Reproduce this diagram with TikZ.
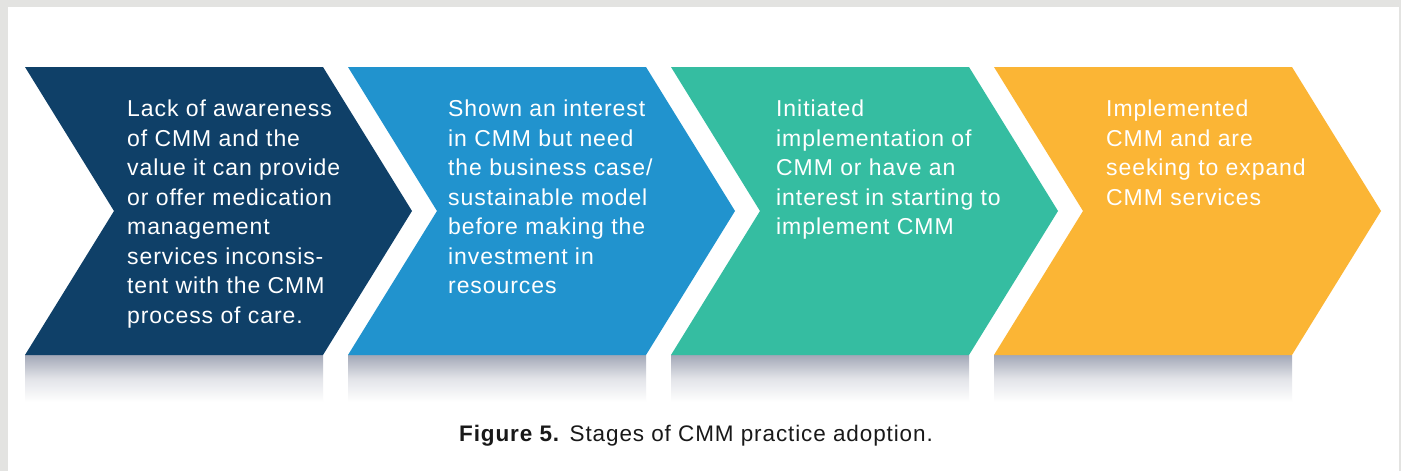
\documentclass[tikz,border=0pt]{standalone}
\usepackage{fontspec}
\setmainfont[LetterSpace=4]{Liberation Sans}
\usepackage{tikz}
\definecolor{navy}{HTML}{0F4068}
\definecolor{skyblue}{HTML}{2193CE}
\definecolor{teal}{HTML}{35BDA1}
\definecolor{amber}{HTML}{FBB535}
\definecolor{framegray}{HTML}{E3E3E1}
\definecolor{shadowgray}{HTML}{8C92A5}
\tikzstyle{stagetext}=[anchor=north west, inner sep=0, align=left, text=white,
  font=\fontsize{23}{29.5}\selectfont]
\tikzstyle{dropshadow}=[top color=shadowgray!80, bottom color=white, middle color=shadowgray!25]

\begin{document}
\begin{tikzpicture}[x=1pt,y=-1pt]
        \useasboundingbox (0,0) rectangle (1401,471);
        \fill[framegray] (0,0) rectangle (1401,471);
        \fill[white] (8,7) rectangle (1399,471);
        % shadows under the stages
        \shade[dropshadow] (25,355) rectangle (323,402);
        \shade[dropshadow] (348,355) rectangle (646,402);
        \shade[dropshadow] (671,355) rectangle (969,402);
        \shade[dropshadow] (994,355) rectangle (1292,402);
        % stages
        \fill[navy] (25,67) -- (323,67) -- (412,211) -- (323,355) -- (25,355) -- (114,211) -- cycle;
        \fill[skyblue] (348,67) -- (646,67) -- (735,211) -- (646,355) -- (348,355) -- (437,211) -- cycle;
        \fill[teal] (671,67) -- (969,67) -- (1058,211) -- (969,355) -- (671,355) -- (760,211) -- cycle;
        \fill[amber] (994,67) -- (1292,67) -- (1381,211) -- (1292,355) -- (994,355) -- (1083,211) -- cycle;
        \node[stagetext] (lack) at (127,100) {Lack of awareness\\of CMM and the\\value it can provide\\or offer medication\\management\\services inconsis-\\tent with the CMM\\process of care.};
        \node[stagetext] (interest) at (448,100) {Shown an interest\\in CMM but need\\the business case/\\sustainable model\\before making the\\investment in\\resources};
        \node[stagetext] (initiated) at (776,100) {Initiated\\implementation of\\CMM or have an\\interest in starting to\\implement CMM};
        \node[stagetext] (implemented) at (1106,100) {Implemented\\CMM and are\\seeking to expand\\CMM services};
        \node[anchor=base, text=black!90, font=\fontsize{22.5}{27}\selectfont] (caption) at (696,441)
          {\textbf{Figure 5.} Stages of CMM practice adoption.};
\end{tikzpicture}
\end{document}
